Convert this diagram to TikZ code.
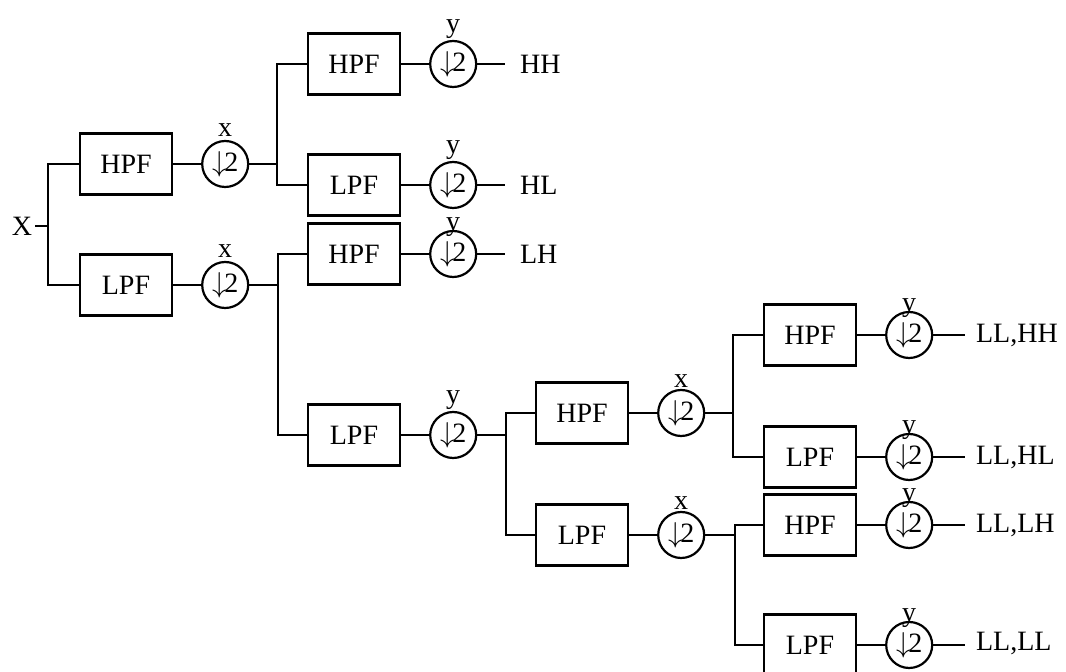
\documentclass[tikz,border=0pt]{standalone}
\usepackage{fontspec}
\setmainfont{Liberation Serif}
\usetikzlibrary{positioning}

\begin{document}
\begin{tikzpicture}[x=0.5pt, y=-0.5pt, node distance=14pt, line width=1.1pt,
	every node/.style={font=\fontsize{14}{16}\selectfont},
	filt/.style={rectangle, draw, minimum width=46pt, minimum height=30.5pt, inner sep=0pt},
	dsamp/.style={circle, draw, minimum size=23pt, inner sep=0pt},
	outl/.style={anchor=west, inner sep=7pt}]
				\useasboundingbox (0,0) rectangle (1066,672);

				% first stage
				\node (in) [inner sep=1pt] at (22,226) {X};
				\node [filt] (hpf1) at (126,164) {HPF};
				\node [filt] (lpf1) at (126,285) {LPF};
				\node [dsamp, right=of hpf1, label={[inner sep=1pt]above:x}] (c1) {$\downarrow$\kern-1pt2};
				\node [dsamp, right=of lpf1, label={[inner sep=1pt]above:x}] (c2) {$\downarrow$\kern-1pt2};

				% second stage
				\node [filt] (hpf2) at (354,64) {HPF};
				\node [filt] (lpf2) at (354,185) {LPF};
				\node [filt] (hpf3) at (354,254) {HPF};
				\node [filt] (lpf3) at (354,435) {LPF};
				\node [dsamp, right=of hpf2, label={[inner sep=0pt]above:y}] (c3) {$\downarrow$\kern-1pt2};
				\node [dsamp, right=of lpf2, label={[inner sep=0pt]above:y}] (c4) {$\downarrow$\kern-1pt2};
				\node [dsamp, right=of hpf3, label={[inner sep=0pt, label distance=-4pt]above:y}] (c5) {$\downarrow$\kern-1pt2};
				\node [dsamp, right=of lpf3, label={[inner sep=0pt]above:y}] (c6) {$\downarrow$\kern-1pt2};
				\node [outl] (hh) at (505,64) {HH};
				\node [outl] (hl) at (505,185) {HL};
				\node [outl] (lh) at (505,254) {LH};

				% third stage
				\node [filt] (hpf4) at (582,413) {HPF};
				\node [filt] (lpf4) at (582,535) {LPF};
				\node [dsamp, right=of hpf4, label={[inner sep=0pt]above:x}] (c7) {$\downarrow$\kern-1pt2};
				\node [dsamp, right=of lpf4, label={[inner sep=0pt]above:x}] (c8) {$\downarrow$\kern-1pt2};

				% fourth stage
				\node [filt] (hpf5) at (810,335) {HPF};
				\node [filt] (lpf5) at (810,457) {LPF};
				\node [filt] (hpf6) at (810,525) {HPF};
				\node [filt] (lpf6) at (810,645) {LPF};
				\node [dsamp, right=of hpf5, label={[inner sep=0pt, label distance=-4pt]above:y}] (c9) {$\downarrow$\kern-1pt2};
				\node [dsamp, right=of lpf5, label={[inner sep=0pt, label distance=-4pt]above:y}] (c10) {$\downarrow$\kern-1pt2};
				\node [dsamp, right=of hpf6, label={[inner sep=0pt, label distance=-4pt]above:y}] (c11) {$\downarrow$\kern-1pt2};
				\node [dsamp, right=of lpf6, label={[inner sep=0pt, label distance=-4pt]above:y}] (c12) {$\downarrow$\kern-1pt2};
				\node [outl, inner sep=5pt] (llhh) at (965,335) {LL,HH};
				\node [outl, inner sep=5pt] (llhl) at (965,457) {LL,HL};
				\node [outl, inner sep=5pt] (lllh) at (965,525) {LL,LH};
				\node [outl, inner sep=5pt] (llll) at (965,643) {LL,LL};

				% branch points
				\coordinate (s0) at (48,226);
				\coordinate (s1) at (277,164);
				\coordinate (s2) at (278,285);
				\coordinate (s3) at (506,435);
				\coordinate (s4) at (733,413);
				\coordinate (s5) at (735,535);

				\draw (in) -- (s0);
				\draw (hpf1) -| (s0) |- (lpf1);
				\draw (hpf1) -- (c1);
				\draw (lpf1) -- (c2);
				\draw (c1) -- (s1);
				\draw (hpf2) -| (s1) |- (lpf2);
				\draw (c2) -- (s2);
				\draw (hpf3) -| (s2) |- (lpf3);
				\draw (hpf2) -- (c3);
				\draw (lpf2) -- (c4);
				\draw (hpf3) -- (c5);
				\draw (lpf3) -- (c6);
				\draw (c3) -- (c3 -| hh.west);
				\draw (c4) -- (c4 -| hl.west);
				\draw (c5) -- (c5 -| lh.west);
				\draw (c6) -- (s3);
				\draw (hpf4) -| (s3) |- (lpf4);
				\draw (hpf4) -- (c7);
				\draw (lpf4) -- (c8);
				\draw (c7) -- (s4);
				\draw (hpf5) -| (s4) |- (lpf5);
				\draw (c8) -- (s5);
				\draw (hpf6) -| (s5) |- (lpf6);
				\draw (hpf5) -- (c9);
				\draw (lpf5) -- (c10);
				\draw (hpf6) -- (c11);
				\draw (lpf6) -- (c12);
				\draw (c9) -- (c9 -| llhh.west);
				\draw (c10) -- (c10 -| llhl.west);
				\draw (c11) -- (c11 -| lllh.west);
				\draw (c12) -- (c12 -| llll.west);
			\end{tikzpicture}
\end{document}
